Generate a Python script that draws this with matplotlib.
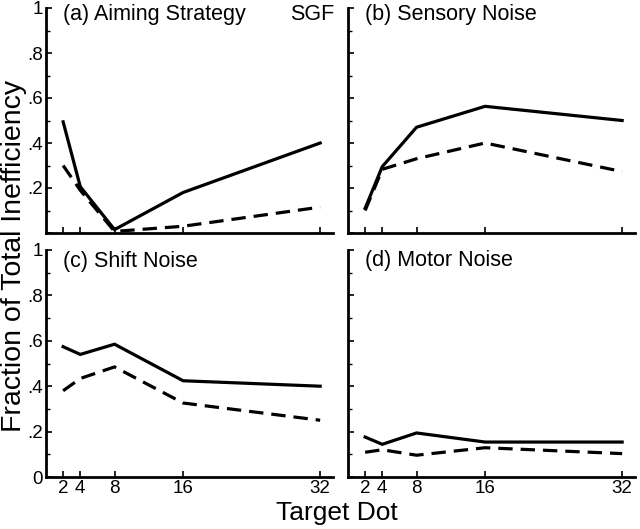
import matplotlib
matplotlib.use('Agg')
import matplotlib.pyplot as plt

plt.rcParams['font.family'] = ['Liberation Sans', 'DejaVu Sans']

target_dots = [2, 4, 8, 16, 32]
panel_titles = ['(a) Aiming Strategy', '(b) Sensory Noise', '(c) Shift Noise', '(d) Motor Noise']

# solid / dashed curves for each panel
aim_solid = [0.494, 0.206, 0.015, 0.18, 0.40]
aim_dashed = [0.30, 0.19, 0.007, 0.03, 0.115]
sens_solid = [0.11, 0.295, 0.47, 0.563, 0.50]
sens_dashed = [0.10, 0.283, 0.33, 0.40, 0.273]
shift_solid = [0.574, 0.54, 0.585, 0.424, 0.40]
shift_dashed = [0.38, 0.434, 0.485, 0.326, 0.25]
motor_solid = [0.176, 0.144, 0.194, 0.154, 0.154]
motor_dashed = [0.109, 0.12, 0.096, 0.129, 0.103]

solids = [aim_solid, sens_solid, shift_solid, motor_solid]
dasheds = [aim_dashed, sens_dashed, shift_dashed, motor_dashed]

W, H = 640, 529
fig = plt.figure(figsize=(6.4, 5.29), dpi=100)

# axes rectangles in pixels: left, right, bottom(y of 0), top(y of 1)
rects = [
    (46, 333, 233, 8),
    (348, 635, 233, 8),
    (46, 333, 477, 250),
    (348, 635, 477, 250),
]
title_y = [0.97, 0.97, 0.95, 0.955]

for i, (l, r, b, t) in enumerate(rects):
    ax = fig.add_axes([l / W, 1 - b / H, (r - l) / W, (b - t) / H])
    ax.plot(target_dots, solids[i], color='black', lw=2.3, solid_joinstyle='miter')
    ax.plot(target_dots, dasheds[i], color='black', lw=2.3, dashes=(4.5, 2.5))
    ax.set_xlim(0, 33.5)
    ax.set_ylim(0, 1)
    for s in ['top', 'right']:
        ax.spines[s].set_visible(False)
    for s in ['left', 'bottom']:
        ax.spines[s].set_linewidth(2.0)
    ax.set_xticks(target_dots)
    ax.set_yticks([0, 0.2, 0.4, 0.6, 0.8, 1.0])
    ax.set_yticks([0.1, 0.3, 0.5, 0.7, 0.9], minor=True)
    ax.tick_params(direction='in', length=4, width=1.2, labelsize=13.5, pad=2)
    ax.tick_params(which='minor', direction='in', length=3, width=1.0)
    ax.set_yticklabels(['0', '.2', '.4', '.6', '.8', '1'])
    if i < 2:
        ax.set_xticklabels([])
    if i % 2 == 1:
        ax.set_yticklabels([])
    if i == 0:
        labs = ax.get_yticklabels()
        labs[0].set_visible(False)
    ax.text(2, title_y[i], panel_titles[i], fontsize=15.5, va='center', ha='left')
    if i == 0:
        ax.text(33.7, 0.97, 'SGF', fontsize=15.5, va='center', ha='right')

fig.text(14 / W, 1 - 256 / H, 'Fraction of Total Inefficiency', rotation=90,
         fontsize=20.5, ha='center', va='center')
fig.text(337 / W, 1 - 513 / H, 'Target Dot', fontsize=19, ha='center', va='center')

fig.savefig('out.png', dpi=100)
